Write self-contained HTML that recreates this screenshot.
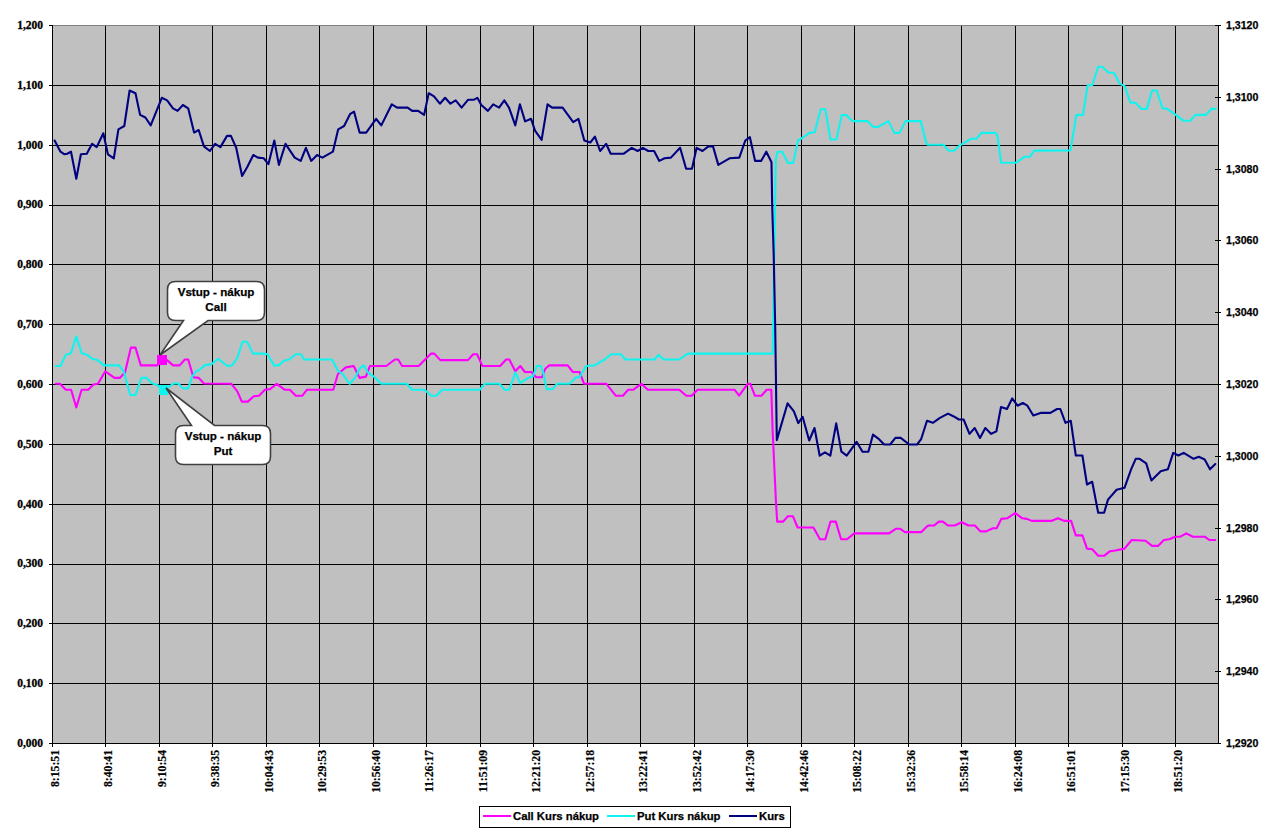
<!DOCTYPE html>
<html><head><meta charset="utf-8">
<style>
html,body{margin:0;padding:0;background:#fff;}
body{width:1276px;height:836px;overflow:hidden;position:relative;}
svg{position:absolute;left:0;top:0;}
.ser{font-family:"Liberation Serif",serif;font-weight:bold;stroke:#000;stroke-width:0.3px;}
.san{font-family:"Liberation Sans",sans-serif;font-weight:bold;stroke:#000;stroke-width:0.25px;}
</style></head><body>
<svg width="1276" height="836" viewBox="0 0 1276 836">

<rect x="52" y="25" width="1166" height="718" fill="#c0c0c0"/>
<rect x="52" y="683" width="1166" height="1" fill="#000"/>
<rect x="52" y="623" width="1166" height="1" fill="#000"/>
<rect x="52" y="564" width="1166" height="1" fill="#000"/>
<rect x="52" y="504" width="1166" height="1" fill="#000"/>
<rect x="52" y="444" width="1166" height="1" fill="#000"/>
<rect x="52" y="384" width="1166" height="1" fill="#000"/>
<rect x="52" y="324" width="1166" height="1" fill="#000"/>
<rect x="52" y="264" width="1166" height="1" fill="#000"/>
<rect x="52" y="205" width="1166" height="1" fill="#000"/>
<rect x="52" y="145" width="1166" height="1" fill="#000"/>
<rect x="52" y="85" width="1166" height="1" fill="#000"/>
<rect x="105" y="26" width="1" height="718" fill="#000"/>
<rect x="159" y="26" width="1" height="718" fill="#000"/>
<rect x="212" y="26" width="1" height="718" fill="#000"/>
<rect x="266" y="26" width="1" height="718" fill="#000"/>
<rect x="319" y="26" width="1" height="718" fill="#000"/>
<rect x="373" y="26" width="1" height="718" fill="#000"/>
<rect x="426" y="26" width="1" height="718" fill="#000"/>
<rect x="480" y="26" width="1" height="718" fill="#000"/>
<rect x="533" y="26" width="1" height="718" fill="#000"/>
<rect x="587" y="26" width="1" height="718" fill="#000"/>
<rect x="640" y="26" width="1" height="718" fill="#000"/>
<rect x="694" y="26" width="1" height="718" fill="#000"/>
<rect x="747" y="26" width="1" height="718" fill="#000"/>
<rect x="801" y="26" width="1" height="718" fill="#000"/>
<rect x="854" y="26" width="1" height="718" fill="#000"/>
<rect x="908" y="26" width="1" height="718" fill="#000"/>
<rect x="961" y="26" width="1" height="718" fill="#000"/>
<rect x="1015" y="26" width="1" height="718" fill="#000"/>
<rect x="1068" y="26" width="1" height="718" fill="#000"/>
<rect x="1122" y="26" width="1" height="718" fill="#000"/>
<rect x="1175" y="26" width="1" height="718" fill="#000"/>
<rect x="52" y="25" width="1167" height="1" fill="#808080"/>
<rect x="52" y="25" width="1" height="719" fill="#000"/>
<rect x="1218" y="25" width="1" height="719" fill="#000"/>
<rect x="52" y="743" width="1167" height="1" fill="#000"/>
<rect x="49" y="743" width="3" height="1" fill="#000"/>
<rect x="49" y="683" width="3" height="1" fill="#000"/>
<rect x="49" y="623" width="3" height="1" fill="#000"/>
<rect x="49" y="564" width="3" height="1" fill="#000"/>
<rect x="49" y="504" width="3" height="1" fill="#000"/>
<rect x="49" y="444" width="3" height="1" fill="#000"/>
<rect x="49" y="384" width="3" height="1" fill="#000"/>
<rect x="49" y="324" width="3" height="1" fill="#000"/>
<rect x="49" y="264" width="3" height="1" fill="#000"/>
<rect x="49" y="205" width="3" height="1" fill="#000"/>
<rect x="49" y="145" width="3" height="1" fill="#000"/>
<rect x="49" y="85" width="3" height="1" fill="#000"/>
<rect x="49" y="25" width="3" height="1" fill="#000"/>
<rect x="1215" y="743" width="6" height="1" fill="#000"/>
<rect x="1215" y="671" width="6" height="1" fill="#000"/>
<rect x="1215" y="599" width="6" height="1" fill="#000"/>
<rect x="1215" y="528" width="6" height="1" fill="#000"/>
<rect x="1215" y="456" width="6" height="1" fill="#000"/>
<rect x="1215" y="384" width="6" height="1" fill="#000"/>
<rect x="1215" y="312" width="6" height="1" fill="#000"/>
<rect x="1215" y="240" width="6" height="1" fill="#000"/>
<rect x="1215" y="169" width="6" height="1" fill="#000"/>
<rect x="1215" y="97" width="6" height="1" fill="#000"/>
<rect x="1215" y="25" width="6" height="1" fill="#000"/>
<rect x="52" y="744" width="1" height="3" fill="#000"/>
<rect x="105" y="744" width="1" height="3" fill="#000"/>
<rect x="159" y="744" width="1" height="3" fill="#000"/>
<rect x="212" y="744" width="1" height="3" fill="#000"/>
<rect x="266" y="744" width="1" height="3" fill="#000"/>
<rect x="319" y="744" width="1" height="3" fill="#000"/>
<rect x="373" y="744" width="1" height="3" fill="#000"/>
<rect x="426" y="744" width="1" height="3" fill="#000"/>
<rect x="480" y="744" width="1" height="3" fill="#000"/>
<rect x="533" y="744" width="1" height="3" fill="#000"/>
<rect x="587" y="744" width="1" height="3" fill="#000"/>
<rect x="640" y="744" width="1" height="3" fill="#000"/>
<rect x="694" y="744" width="1" height="3" fill="#000"/>
<rect x="747" y="744" width="1" height="3" fill="#000"/>
<rect x="801" y="744" width="1" height="3" fill="#000"/>
<rect x="854" y="744" width="1" height="3" fill="#000"/>
<rect x="908" y="744" width="1" height="3" fill="#000"/>
<rect x="961" y="744" width="1" height="3" fill="#000"/>
<rect x="1015" y="744" width="1" height="3" fill="#000"/>
<rect x="1068" y="744" width="1" height="3" fill="#000"/>
<rect x="1122" y="744" width="1" height="3" fill="#000"/>
<rect x="1175" y="744" width="1" height="3" fill="#000"/>
<polyline points="55.9,383.8 59.9,383.8 65.8,389.7 71.1,389.7 76.3,407.5 81.6,389.7 88.2,389.7 93.4,384.5 98.0,383.8 105.3,371.3 114.5,377.9 119.7,377.9 125.0,372.6 130.9,347.6 135.5,347.6 140.8,365.4 157.2,365.4 161.8,360.1 167.1,360.1 173.0,365.4 179.6,365.4 184.9,359.5 188.2,359.5 193.4,377.2 198.7,377.9 203.9,383.5 231.3,383.8 237.2,391.1 241.8,401.6 247.8,401.6 253.7,396.3 258.9,395.7 264.9,389.7 270.1,389.1 276.7,383.8 284.6,389.7 289.9,389.7 295.8,395.7 302.4,395.7 307.0,389.7 333.3,389.7 337.9,374.0 345.8,367.4 353.7,366.0 359.6,377.9 365.9,376.6 369.9,366.0 386.3,366.0 394.9,359.5 398.2,359.5 402.1,366.0 418.6,366.0 431.1,353.6 434.3,353.6 440.3,360.1 467.9,360.1 473.2,354.2 477.1,354.2 482.4,366.0 500.1,366.0 506.1,359.5 509.3,359.5 515.3,371.3 520.3,366.0 524.9,372.0 531.4,372.0 536.1,377.2 542.0,377.2 545.3,368.7 549.2,365.4 567.6,365.4 572.9,372.0 579.5,372.0 584.1,383.8 606.4,383.8 615.7,395.7 622.9,395.7 628.2,389.7 633.4,389.7 641.3,383.8 647.9,389.7 679.2,389.7 686.4,395.7 691.7,395.7 697.6,389.7 734.5,389.7 739.1,395.7 747.6,383.8 750.3,383.8 754.9,395.7 761.4,395.7 766.7,389.7 771.3,389.7 772.6,430.0 775.9,500.5 777.2,521.6 783.2,521.6 787.8,516.3 793.0,516.3 797.6,527.5 813.4,527.5 820.0,539.3 825.3,539.3 830.5,521.6 835.8,521.6 841.1,539.3 847.0,539.3 854.2,533.4 889.1,533.4 895.7,528.8 900.3,528.8 904.9,532.1 921.3,532.1 927.2,526.2 928.9,525.5 934.2,525.5 938.8,521.6 942.8,521.6 948.0,525.5 954.6,525.5 961.8,522.2 968.4,525.5 975.0,525.5 980.3,531.4 986.2,531.4 992.8,528.2 996.7,528.2 1001.3,518.9 1007.2,518.3 1015.1,513.0 1022.4,518.3 1027.0,518.9 1031.6,520.9 1051.3,520.9 1057.9,518.3 1064.5,520.9 1071.1,520.9 1075.8,535.4 1082.4,535.4 1087.0,548.6 1092.2,549.2 1098.2,555.8 1104.1,555.8 1110.0,551.2 1115.3,550.5 1124.5,548.6 1131.7,540.0 1145.5,540.7 1152.1,545.9 1158.0,545.9 1163.9,540.0 1169.2,539.3 1175.1,536.7 1180.4,536.7 1186.3,533.4 1192.9,536.7 1204.7,536.7 1209.3,540.0 1215.3,540.0" fill="none" stroke="#ff00ff" stroke-width="2.1" stroke-linejoin="round" stroke-linecap="round"/>
<polyline points="55.9,366.0 60.5,366.0 65.8,354.9 71.1,352.9 76.3,336.4 81.6,352.9 87.5,354.9 92.1,358.8 97.4,360.1 103.9,365.4 119.1,365.4 123.7,371.3 130.3,395.0 135.5,395.0 141.4,377.9 146.7,377.9 152.0,383.2 157.2,385.1 164.5,390.4 168.4,387.1 173.7,383.5 178.3,383.5 182.9,388.4 188.2,388.4 192.1,376.6 196.0,371.3 199.3,370.0 204.6,365.4 211.6,364.1 218.2,358.8 227.4,366.0 232.0,365.4 237.2,358.2 242.5,341.7 247.1,341.7 253.0,353.6 263.6,353.6 267.5,354.2 274.1,365.4 278.7,365.4 284.0,360.8 289.2,359.5 295.8,354.2 301.1,354.2 304.3,359.5 332.0,359.5 337.9,370.7 342.5,374.0 349.7,383.8 355.0,377.9 359.6,368.7 363.9,365.4 367.9,372.6 374.5,377.2 381.1,383.8 406.7,383.8 412.0,389.7 424.5,389.7 431.1,395.7 436.3,395.7 442.2,389.7 479.7,389.7 485.0,383.8 499.5,383.8 504.7,389.7 509.3,389.7 515.3,372.6 520.3,383.2 528.2,377.9 532.8,376.6 536.7,366.0 540.7,366.0 543.3,372.6 546.6,389.1 552.5,389.1 557.1,383.8 569.6,383.8 576.2,377.2 579.5,377.2 586.1,366.0 594.6,365.4 604.5,359.5 611.1,354.2 620.9,354.2 625.5,359.5 654.5,359.5 658.4,354.9 663.7,359.5 679.2,359.5 687.8,353.6 771.3,353.6 772.7,353.8 775.8,160.0 777.5,151.7 782.1,151.7 788.0,162.9 793.3,162.9 797.9,140.5 802.9,137.5 809.5,132.9 814.7,132.2 820.7,109.2 825.3,109.2 830.5,139.5 836.4,139.5 841.7,115.1 846.3,115.1 852.2,121.1 867.4,121.1 873.3,127.0 877.9,127.0 888.4,121.1 894.3,132.9 899.6,132.9 905.5,121.1 920.7,121.1 926.6,144.1 927.6,144.7 943.4,144.7 948.7,150.7 953.9,150.7 959.9,145.4 971.0,138.8 976.3,138.8 981.6,132.9 995.5,132.8 997.5,135.8 1001.1,162.8 1015.9,162.8 1024.5,156.8 1029.7,156.8 1034.3,150.6 1070.5,150.4 1076.4,114.9 1083.0,114.9 1087.6,85.3 1092.2,85.3 1098.2,66.8 1102.1,66.8 1108.7,72.8 1113.9,72.8 1119.9,83.9 1124.5,85.9 1130.4,102.4 1135.7,103.0 1141.6,108.9 1146.8,108.9 1152.1,90.5 1156.7,90.5 1162.6,108.3 1167.2,108.9 1175.8,114.9 1183.7,120.8 1190.3,120.8 1195.5,114.9 1206.1,114.9 1211.3,108.9 1215.9,108.9" fill="none" stroke="#10f4f0" stroke-width="2.1" stroke-linejoin="round" stroke-linecap="round"/>
<polyline points="54.6,140.5 60.5,151.7 64.5,154.3 67.1,153.7 71.0,151.7 76.3,178.7 80.9,154.3 86.8,153.7 92.1,143.8 96.7,147.1 103.3,133.3 107.9,154.3 113.8,158.3 118.4,129.3 124.3,126.0 129.6,90.5 135.5,93.2 140.1,114.9 145.4,117.5 150.7,125.4 161.8,97.8 167.1,100.4 173.0,108.3 177.6,110.9 182.9,105.0 188.2,108.3 194.1,132.6 198.7,130.0 203.9,146.4 209.9,151.0 215.1,143.8 220.4,147.1 227.0,135.9 230.9,135.9 236.2,147.8 242.1,176.0 247.4,166.8 253.3,155.0 257.9,157.6 263.8,158.3 268.4,164.2 274.3,140.5 278.9,164.9 285.5,143.8 294.7,157.6 300.7,160.9 305.9,147.8 311.2,160.9 317.1,155.0 322.4,157.6 332.9,151.7 338.2,129.3 344.1,126.0 350.0,114.2 354.0,111.6 359.6,132.6 366.2,132.6 376.1,118.8 381.3,125.4 391.8,104.3 397.1,107.6 407.6,107.6 412.2,110.9 418.2,110.9 424.1,114.9 428.7,93.2 434.0,96.4 439.9,103.7 445.1,97.8 450.4,103.7 455.7,100.4 461.6,107.6 468.2,99.7 474.1,99.7 477.4,97.8 481.3,105.0 487.9,110.9 493.2,104.3 499.1,107.6 504.3,100.4 509.0,107.6 515.3,125.4 519.9,104.3 525.1,121.4 531.1,118.8 535.0,130.7 541.6,139.9 547.5,104.3 552.1,107.6 562.6,107.6 573.2,122.1 578.4,118.8 584.3,140.5 590.3,142.5 594.9,136.6 600.1,151.0 606.1,143.8 610.7,153.7 623.8,153.7 631.7,147.8 637.6,151.0 642.9,147.8 648.2,151.0 654.1,151.0 659.3,160.9 664.6,158.3 670.9,157.6 680.1,147.8 686.1,168.8 692.0,168.8 696.6,147.8 702.5,151.0 708.4,146.4 713.0,146.4 718.3,164.9 729.5,158.3 739.3,157.6 745.3,140.5 749.9,137.2 755.1,160.9 761.1,160.9 766.3,151.7 771.5,162.2 772.2,206.0 773.7,254.7 775.2,327.0 776.8,440.1 787.6,403.3 793.9,411.4 798.3,423.1 802.6,416.8 809.2,440.5 814.5,428.0 819.7,455.7 825.0,452.4 830.3,455.7 836.2,423.4 841.4,451.7 846.7,455.7 856.6,441.8 862.5,451.7 868.4,451.7 873.0,434.6 878.3,438.6 884.2,444.5 890.1,444.5 895.4,437.9 900.7,437.9 909.2,444.5 917.1,444.5 921.1,439.2 927.0,420.8 932.9,422.8 939.5,418.2 948.0,413.6 953.3,416.2 958.9,419.5 963.6,419.5 969.5,433.9 974.7,428.0 980.0,437.9 985.3,428.0 991.2,433.9 996.4,431.3 1001.0,407.0 1007.0,409.0 1012.2,398.4 1017.5,405.7 1022.8,403.0 1027.4,405.7 1033.3,415.5 1040.5,412.9 1050.4,412.9 1057.0,409.0 1060.3,409.0 1065.5,422.8 1070.8,420.8 1075.8,455.5 1082.4,455.5 1087.0,484.5 1092.2,481.8 1098.2,512.8 1104.1,512.8 1108.0,499.6 1116.6,489.7 1124.5,487.8 1131.1,469.3 1135.7,458.8 1139.6,458.8 1146.2,463.4 1151.4,480.5 1160.7,471.3 1167.9,469.3 1173.2,452.9 1178.4,455.5 1183.7,452.9 1193.6,458.8 1198.8,456.8 1204.7,459.5 1210.0,469.3 1215.3,464.1" fill="none" stroke="#000080" stroke-width="2.1" stroke-linejoin="round" stroke-linecap="round"/>
<rect x="157" y="355" width="10" height="10" fill="#ff00ff"/>
<rect x="159" y="385" width="9" height="10" fill="#10f4f0"/>
<path d="M175.5,281.5 H256.5 Q264.5,281.5 264.5,289.5 V312.5 Q264.5,320.5 256.5,320.5 H208 L160,355 L183.5,320.5 H175.5 Q167.5,320.5 167.5,312.5 V289.5 Q167.5,281.5 175.5,281.5 Z" fill="#fff" stroke="#404040" stroke-width="1.6"/><text x="216.0" y="296" class="san" font-size="11.6" text-anchor="middle" fill="#000">Vstup - nákup</text><text x="216.0" y="311" class="san" font-size="11.6" text-anchor="middle" fill="#000">Call</text>
<path d="M183.5,425.5 H191.5 L166,388 L214.5,425.5 H262.5 Q270.5,425.5 270.5,433.5 V456.5 Q270.5,464.5 262.5,464.5 H183.5 Q175.5,464.5 175.5,456.5 V433.5 Q175.5,425.5 183.5,425.5 Z" fill="#fff" stroke="#404040" stroke-width="1.6"/><text x="223.0" y="440" class="san" font-size="11.6" text-anchor="middle" fill="#000">Vstup - nákup</text><text x="223.0" y="455" class="san" font-size="11.6" text-anchor="middle" fill="#000">Put</text>
<text x="43" y="746.8" class="ser" font-size="11.5" text-anchor="end">0,000</text>
<text x="43" y="687.0" class="ser" font-size="11.5" text-anchor="end">0,100</text>
<text x="43" y="627.1" class="ser" font-size="11.5" text-anchor="end">0,200</text>
<text x="43" y="567.3" class="ser" font-size="11.5" text-anchor="end">0,300</text>
<text x="43" y="507.5" class="ser" font-size="11.5" text-anchor="end">0,400</text>
<text x="43" y="447.6" class="ser" font-size="11.5" text-anchor="end">0,500</text>
<text x="43" y="387.8" class="ser" font-size="11.5" text-anchor="end">0,600</text>
<text x="43" y="328.0" class="ser" font-size="11.5" text-anchor="end">0,700</text>
<text x="43" y="268.1" class="ser" font-size="11.5" text-anchor="end">0,800</text>
<text x="43" y="208.3" class="ser" font-size="11.5" text-anchor="end">0,900</text>
<text x="43" y="148.5" class="ser" font-size="11.5" text-anchor="end">1,000</text>
<text x="43" y="88.6" class="ser" font-size="11.5" text-anchor="end">1,100</text>
<text x="43" y="28.8" class="ser" font-size="11.5" text-anchor="end">1,200</text>
<text x="1226" y="747.0" class="san" font-size="10.6">1,2920</text>
<text x="1226" y="675.2" class="san" font-size="10.6">1,2940</text>
<text x="1226" y="603.4" class="san" font-size="10.6">1,2960</text>
<text x="1226" y="531.6" class="san" font-size="10.6">1,2980</text>
<text x="1226" y="459.8" class="san" font-size="10.6">1,3000</text>
<text x="1226" y="388.0" class="san" font-size="10.6">1,3020</text>
<text x="1226" y="316.2" class="san" font-size="10.6">1,3040</text>
<text x="1226" y="244.4" class="san" font-size="10.6">1,3060</text>
<text x="1226" y="172.6" class="san" font-size="10.6">1,3080</text>
<text x="1226" y="100.8" class="san" font-size="10.6">1,3100</text>
<text x="1226" y="29.0" class="san" font-size="10.6">1,3120</text>
<text transform="translate(58.9,750) rotate(-90)" class="ser" font-size="11.7" text-anchor="end" style="stroke-width:0.2px">8:15:51</text>
<text transform="translate(112.4,750) rotate(-90)" class="ser" font-size="11.7" text-anchor="end" style="stroke-width:0.2px">8:40:41</text>
<text transform="translate(165.9,750) rotate(-90)" class="ser" font-size="11.7" text-anchor="end" style="stroke-width:0.2px">9:10:54</text>
<text transform="translate(219.4,750) rotate(-90)" class="ser" font-size="11.7" text-anchor="end" style="stroke-width:0.2px">9:38:35</text>
<text transform="translate(272.9,750) rotate(-90)" class="ser" font-size="11.7" text-anchor="end" style="stroke-width:0.2px">10:04:43</text>
<text transform="translate(326.4,750) rotate(-90)" class="ser" font-size="11.7" text-anchor="end" style="stroke-width:0.2px">10:29:53</text>
<text transform="translate(379.8,750) rotate(-90)" class="ser" font-size="11.7" text-anchor="end" style="stroke-width:0.2px">10:56:40</text>
<text transform="translate(433.3,750) rotate(-90)" class="ser" font-size="11.7" text-anchor="end" style="stroke-width:0.2px">11:26:17</text>
<text transform="translate(486.8,750) rotate(-90)" class="ser" font-size="11.7" text-anchor="end" style="stroke-width:0.2px">11:51:09</text>
<text transform="translate(540.3,750) rotate(-90)" class="ser" font-size="11.7" text-anchor="end" style="stroke-width:0.2px">12:21:20</text>
<text transform="translate(593.8,750) rotate(-90)" class="ser" font-size="11.7" text-anchor="end" style="stroke-width:0.2px">12:57:18</text>
<text transform="translate(647.3,750) rotate(-90)" class="ser" font-size="11.7" text-anchor="end" style="stroke-width:0.2px">13:22:41</text>
<text transform="translate(700.8,750) rotate(-90)" class="ser" font-size="11.7" text-anchor="end" style="stroke-width:0.2px">13:52:42</text>
<text transform="translate(754.3,750) rotate(-90)" class="ser" font-size="11.7" text-anchor="end" style="stroke-width:0.2px">14:17:30</text>
<text transform="translate(807.8,750) rotate(-90)" class="ser" font-size="11.7" text-anchor="end" style="stroke-width:0.2px">14:42:46</text>
<text transform="translate(861.2,750) rotate(-90)" class="ser" font-size="11.7" text-anchor="end" style="stroke-width:0.2px">15:08:22</text>
<text transform="translate(914.7,750) rotate(-90)" class="ser" font-size="11.7" text-anchor="end" style="stroke-width:0.2px">15:32:36</text>
<text transform="translate(968.2,750) rotate(-90)" class="ser" font-size="11.7" text-anchor="end" style="stroke-width:0.2px">15:58:14</text>
<text transform="translate(1021.7,750) rotate(-90)" class="ser" font-size="11.7" text-anchor="end" style="stroke-width:0.2px">16:24:08</text>
<text transform="translate(1075.2,750) rotate(-90)" class="ser" font-size="11.7" text-anchor="end" style="stroke-width:0.2px">16:51:01</text>
<text transform="translate(1128.7,750) rotate(-90)" class="ser" font-size="11.7" text-anchor="end" style="stroke-width:0.2px">17:15:30</text>
<text transform="translate(1182.2,750) rotate(-90)" class="ser" font-size="11.7" text-anchor="end" style="stroke-width:0.2px">18:51:20</text>
<rect x="479.5" y="806.5" width="311" height="21" fill="#fff" stroke="#000" stroke-width="1"/>
<rect x="483" y="815" width="28" height="2" fill="#ff00ff"/>
<text x="513" y="820" class="san" font-size="11.3">Call Kurs nákup</text>
<rect x="607" y="815" width="28" height="2" fill="#10f4f0"/>
<text x="637" y="820" class="san" font-size="11.3">Put Kurs nákup</text>
<rect x="729" y="815" width="28" height="2" fill="#000080"/>
<text x="759" y="820" class="san" font-size="11.3">Kurs</text>
</svg></body></html>
